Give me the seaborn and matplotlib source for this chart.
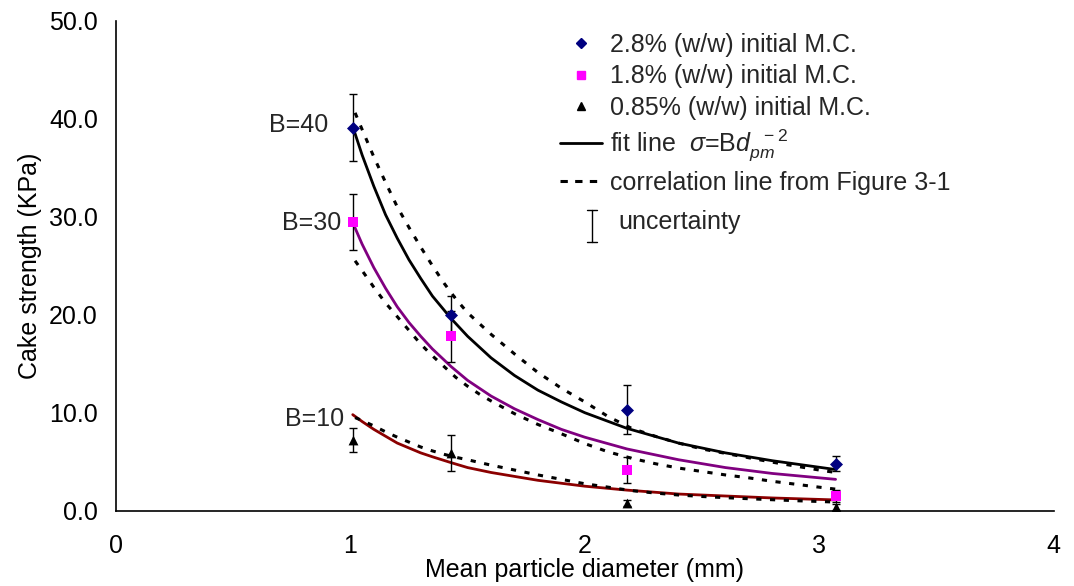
import matplotlib
matplotlib.use("Agg")
import matplotlib.pyplot as plt
import seaborn as sns
import pandas as pd
from matplotlib.lines import Line2D

# ---------------- data ----------------
diam = [1.01, 1.43, 2.18, 3.07]
mc_28 = [39.1, 20.0, 10.3, 4.8]
err_28 = [3.45, 1.9, 2.5, 0.75]
mc_18 = [29.5, 17.8, 4.15, 1.5]
err_18 = [2.85, 2.6, 1.35, 0.6]
mc_085 = [7.2, 5.9, 0.8, 0.4]
err_085 = [1.2, 1.85, 0.3, 0.3]

fit_x = [1.01, 1.05, 1.1, 1.15, 1.2, 1.25, 1.3, 1.35, 1.43, 1.5, 1.6, 1.7,
         1.8, 1.9, 2.0, 2.18, 2.4, 2.6, 2.8, 3.07]
fit_b40 = [39.2, 36.3, 33.1, 30.2, 27.8, 25.6, 23.7, 21.9, 19.6, 17.8, 15.6, 13.8,
           12.3, 11.1, 10.0, 8.4, 6.9, 5.9, 5.1, 4.2]
fit_b30 = [29.4, 27.2, 24.8, 22.7, 20.8, 19.2, 17.8, 16.5, 14.7, 13.3, 11.7, 10.4,
           9.3, 8.3, 7.5, 6.3, 5.2, 4.4, 3.8, 3.2]
fit_b10 = [9.8, 9.1, 8.3, 7.6, 6.9, 6.4, 5.9, 5.5, 4.9, 4.4, 3.9, 3.5,
           3.1, 2.8, 2.5, 2.1, 1.7, 1.5, 1.3, 1.1]

corr_x = [1.02, 1.05, 1.1, 1.15, 1.2, 1.25, 1.3, 1.35, 1.4, 1.45, 1.5, 1.55, 1.6,
          1.7, 1.8, 1.9, 2.0, 2.1, 2.2, 2.3, 2.4, 2.5, 2.6, 2.7, 2.8, 2.9, 3.0, 3.07]
corr_top = [40.6, 38.9, 36.1, 33.5, 31.0, 28.9, 26.9, 25.0, 23.2, 21.6, 20.2, 19.1, 18.0,
            16.0, 14.1, 12.5, 11.1, 9.6, 8.4, 7.6, 6.9, 6.3, 5.85, 5.4, 4.95, 4.55, 4.15, 3.9]
corr_mid = [25.5, 24.5, 22.8, 21.2, 19.8, 18.4, 17.0, 15.8, 14.7, 13.6, 12.7, 11.9, 11.2,
            9.9, 8.8, 7.85, 6.85, 6.0, 5.35, 4.8, 4.35, 4.0, 3.65, 3.35, 3.0, 2.7, 2.4, 2.2]
corr_low = [9.5, 9.2, 8.65, 8.05, 7.5, 7.0, 6.5, 6.1, 5.75, 5.45, 5.2, 4.92, 4.65,
            4.15, 3.65, 3.2, 2.75, 2.4, 2.05, 1.8, 1.6, 1.45, 1.33, 1.22, 1.12, 1.02, 0.94, 0.88]

series_labels = ["2.8% (w/w) initial M.C.", "1.8% (w/w) initial M.C.", "0.85% (w/w) initial M.C."]
fit_label = r"fit line  $\sigma$=B$d_{pm}^{\ \ -2}$"
corr_label = "correlation line from Figure 3-1"
unc_label = "uncertainty"
b_labels = ["B=40", "B=30", "B=10"]
x_ticks = [0, 1, 2, 3, 4]
y_ticks = [0, 10, 20, 30, 40, 50]

# ---------------- style ----------------
sns.set_theme(style="white")
plt.rcParams['font.family'] = ['Liberation Sans', 'DejaVu Sans']
plt.rcParams['mathtext.fontset'] = 'custom'
plt.rcParams['mathtext.rm'] = 'Liberation Sans'
plt.rcParams['mathtext.it'] = 'Liberation Sans:italic'
FS = 18

fig = plt.figure(figsize=(10.74, 5.86), dpi=100)
ax = fig.add_axes([0.108, 0.1285, 0.873, 0.8362])

# fit lines
for yv, col in [(fit_b40, 'black'), (fit_b30, '#800080'), (fit_b10, '#8B0000')]:
    sns.lineplot(x=fit_x, y=yv, ax=ax, color=col, lw=2.0, zorder=2)

# correlation lines
for yv in [corr_top, corr_mid, corr_low]:
    sns.lineplot(x=corr_x, y=yv, ax=ax, color='black', lw=2.2,
                 linestyle=(0, (1.7, 2.8)), zorder=3)

# error bars
for yv, ev in [(mc_28, err_28), (mc_18, err_18), (mc_085, err_085)]:
    ax.errorbar(diam, yv, yerr=ev, fmt='none', ecolor='black', elinewidth=1.0,
                capsize=3.0, capthick=1.0, zorder=4)

# markers
df = pd.DataFrame({
    'd': diam * 3,
    'v': mc_28 + mc_18 + mc_085,
    's': [series_labels[0]] * 4 + [series_labels[1]] * 4 + [series_labels[2]] * 4,
})
pal = {series_labels[0]: '#000080', series_labels[1]: '#FF00FF', series_labels[2]: 'black'}
mk = {series_labels[0]: 'D', series_labels[1]: 's', series_labels[2]: '^'}
for lab in series_labels:
    sub = df[df['s'] == lab]
    size = {'D': 44, 's': 44, '^': 50}[mk[lab]]
    sns.scatterplot(data=sub, x='d', y='v', ax=ax, color=pal[lab], marker=mk[lab],
                    s=size, linewidth=0, zorder=5, legend=False)

# B annotations
for txt, xx, yy in [(b_labels[0], 0.905, 39.4), (b_labels[1], 0.962, 29.4), (b_labels[2], 0.974, 9.4)]:
    ax.text(xx, yy, txt, ha='right', va='center', fontsize=FS)

# axes formatting
ax.set_xlim(0, 4)
ax.set_ylim(0, 50)
ax.set_xticks(x_ticks)
ax.set_xticklabels([str(t) for t in x_ticks])
ax.set_yticks(y_ticks)
ax.set_yticklabels([f"{t:.1f}" for t in y_ticks])
for sp in ['top', 'right']:
    ax.spines[sp].set_visible(False)
for sp in ['left', 'bottom']:
    ax.spines[sp].set_color('black')
    ax.spines[sp].set_linewidth(1.2)
ax.tick_params(axis='both', which='major', direction='out', length=5, width=1.0,
               color='black', labelsize=FS, labelcolor='black')
ax.tick_params(axis='x', pad=12)
ax.tick_params(axis='y', pad=8)
ax.set_xlabel("Mean particle diameter (mm)", fontsize=FS, color='black', labelpad=0)
ax.set_ylabel("Cake strength (KPa)", fontsize=FS, color='black', labelpad=5)
ax.grid(False)

# legend
handles = [
    Line2D([], [], ls='none', marker='D', color='#000080', markersize=5),
    Line2D([], [], ls='none', marker='s', color='#FF00FF', markersize=6),
    Line2D([], [], ls='none', marker='^', color='black', markersize=6),
    Line2D([], [], color='black', lw=2.0),
    Line2D([], [], color='black', lw=2.2, linestyle=(0, (2.4, 2.4))),
]
labels = series_labels + [fit_label, corr_label]
ax.legend(handles, labels, loc='upper left', bbox_to_anchor=(0.474, 0.975),
          frameon=False, fontsize=FS, handlelength=1.65, handletextpad=0.35,
          labelspacing=0.3, borderpad=0, borderaxespad=0)

# uncertainty legend item
t = ax.transAxes
ux = (592.7 - 116) / 938.0
uy0 = (510.7 - 241.7) / 490.0
uy1 = (510.7 - 210.0) / 490.0
cw = 5.0 / 938.0
ax.plot([ux, ux], [uy0, uy1], color='black', lw=1.0, transform=t)
ax.plot([ux - cw, ux + cw], [uy0, uy0], color='black', lw=1.0, transform=t)
ax.plot([ux - cw, ux + cw], [uy1, uy1], color='black', lw=1.0, transform=t)
ax.text((619 - 116) / 938.0, (510.7 - 222) / 490.0, unc_label, transform=t,
        ha='left', va='center', fontsize=FS)

fig.savefig("out.png", dpi=100)
